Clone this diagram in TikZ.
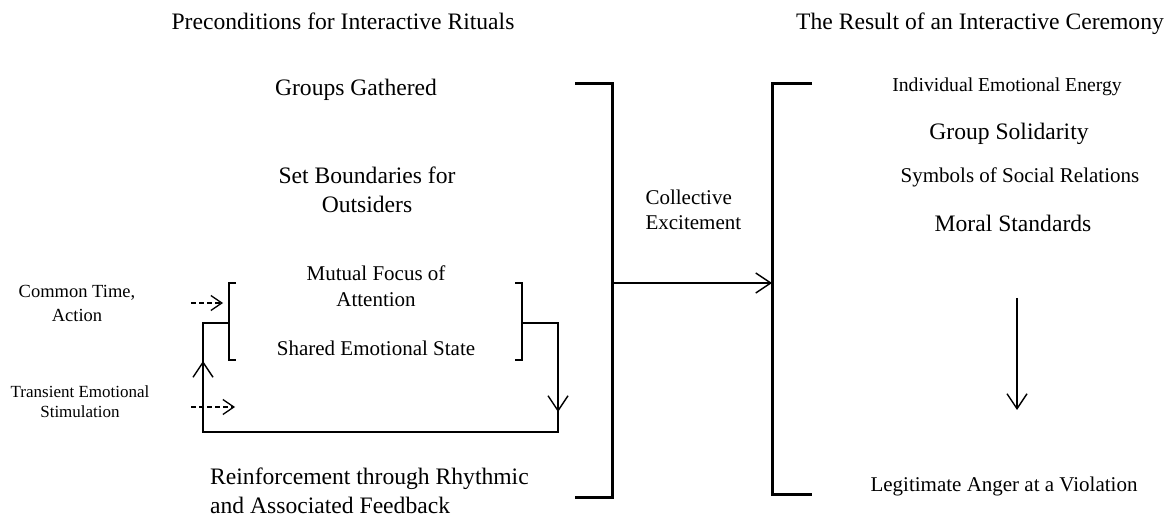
\documentclass[tikz,border=0pt]{standalone}
\usepackage{fontspec}
\setmainfont{Liberation Serif}
\usetikzlibrary{arrows.meta}

\begin{document}
\begin{tikzpicture}[x=1pt,y=-1pt,
	bigtext/.style={font=\fontsize{23.6}{29}\selectfont,align=center},
	midtext/.style={font=\fontsize{21}{25.5}\selectfont,align=center},
	smalltext/.style={font=\fontsize{18.5}{24}\selectfont,align=center},
	tinytext/.style={font=\fontsize{17}{20}\selectfont,align=center},
	barb/.style={-{Straight Barb[length=15pt,width=20pt]},line width=1.4pt},
	dashbarb/.style={dash pattern=on 5pt off 3pt,-{Straight Barb[length=11pt,width=15pt]},line width=1.3pt},
	bigbracket/.style={line width=3pt},
	loopline/.style={line width=2.8pt},
	smallbracket/.style={line width=1.5pt}]
	\useasboundingbox (0,0) rectangle (1170,518);

	\node[bigtext] (preTitle) at (343,21) {Preconditions for Interactive Rituals};
	\node[bigtext] (resTitle) at (980,24) {The Result of an Interactive Ceremony};

	\node[bigtext] (groups) at (356,90) {Groups Gathered};
	\node[bigtext] (bounds) at (367,190) {Set Boundaries for\\Outsiders};
	\node[midtext] (focus) at (376,286) {Mutual Focus of\\Attention};
	\node[midtext] (shared) at (376,348) {Shared Emotional State};
	\node[smalltext] (common) at (77,303) {Common Time,\\Action};
	\node[tinytext] (transient) at (80,402) {Transient Emotional\\Stimulation};
	\node[bigtext,align=left,anchor=west,inner sep=0pt] (reinf) at (210,491) {Reinforcement through Rhythmic\\and Associated Feedback};
	\node[midtext,align=left,anchor=west] (excite) at (642,210) {Collective\\Excitement};

	\node[font=\fontsize{19.7}{24}\selectfont] (energy) at (1007,87) {Individual Emotional Energy};
	\node[bigtext] (solid) at (1009,134) {Group Solidarity};
	\node[midtext] (symbols) at (1020,177) {Symbols of Social Relations};
	\node[bigtext] (moral) at (1013,223) {Moral Standards};
	\node[midtext] (anger) at (1004,486) {Legitimate Anger at a Violation};

	\coordinate (lbTop) at (612,84);
	\coordinate (lbBot) at (612,497);
	\coordinate (lbMid) at (612,283);
	\coordinate (rbTop) at (772,84);
	\coordinate (rbBot) at (772,494);
	\coordinate (rbMid) at (772,283);
	\draw[bigbracket] ([xshift=-37pt]lbTop) -- (lbTop) -- (lbBot) -- ([xshift=-37pt]lbBot);
	\draw[bigbracket] ([xshift=40pt]rbTop) -- (rbTop) -- (rbBot) -- ([xshift=40pt]rbBot);
	\draw[barb] (lbMid) -- (rbMid);

	\draw[smallbracket] (236,283) -- (229,283) -- (229,360) -- (236,360);
	\draw[smallbracket] (515,283) -- (522,283) -- (522,360) -- (515,360);
	\coordinate (loopLeft) at (203,323);
	\coordinate (loopRight) at (558,323);
	\draw[loopline] (229,323) -- (loopLeft) -- (203,432) -- (558,432) -- (loopRight) -- (522,323);
	\draw[barb] (203,380) -- (203,361);
	\draw[barb] (558,390) -- (558,412);

	\draw[dashbarb] (191,303) -- (223,303);
	\draw[dashbarb] (191,407) -- (235,407);

	\draw[barb] (1017,298) -- (1017,410);
\end{tikzpicture}
\end{document}
